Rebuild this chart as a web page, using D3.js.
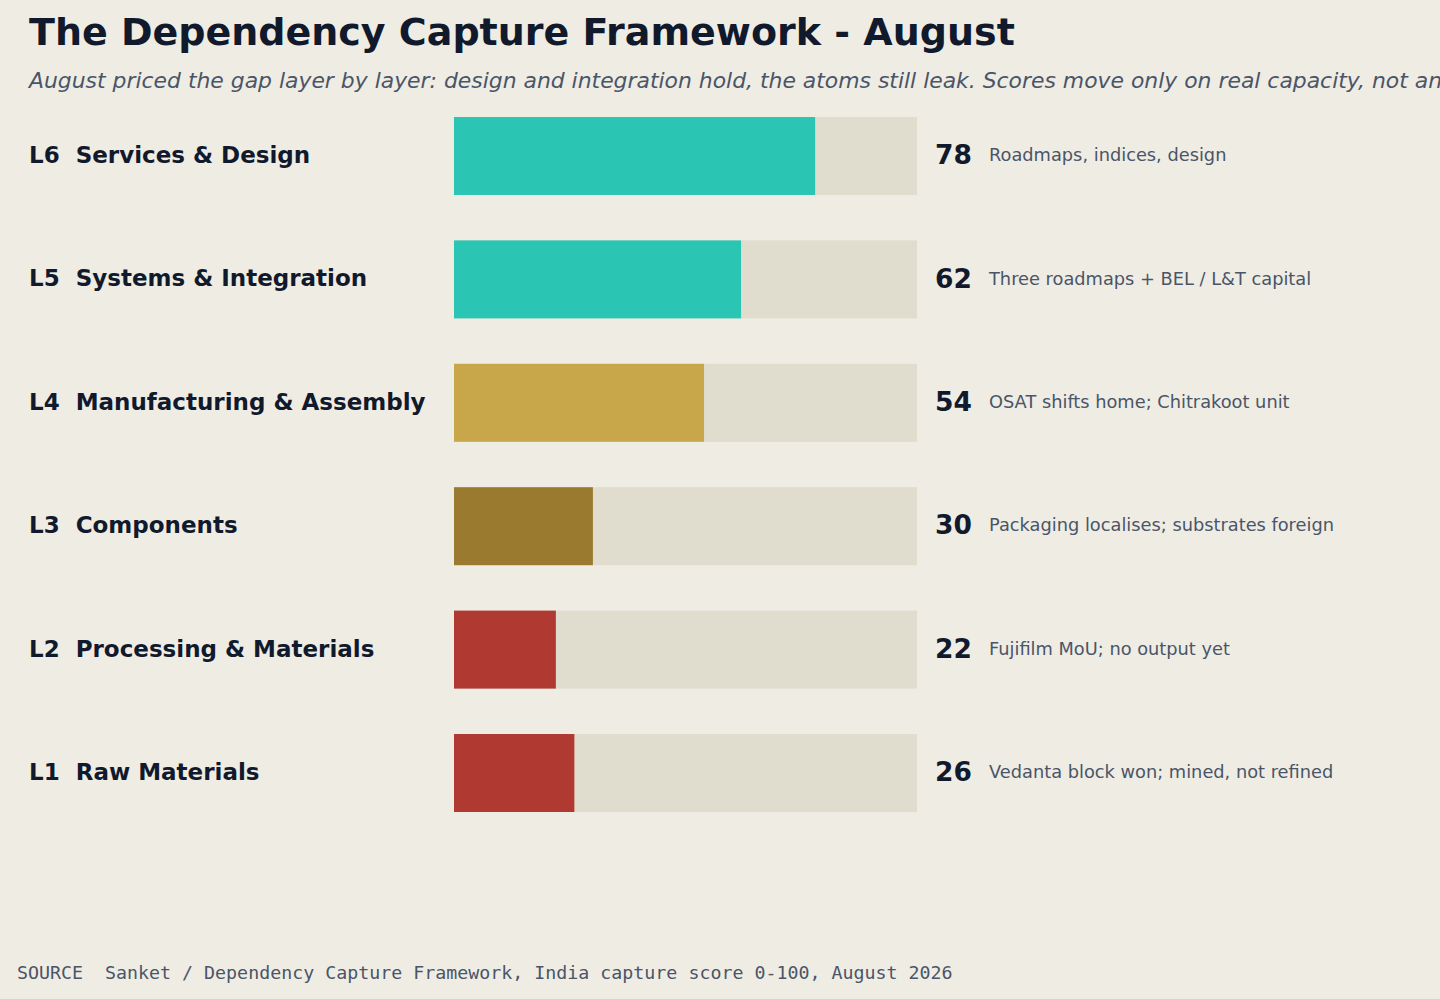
<!DOCTYPE html>
<html>
<head>
<meta charset="utf-8">
<script src="https://cdn.jsdelivr.net/npm/d3@7"></script>
<style>
  html, body { margin: 0; padding: 0; background: #efece4; }
  svg { display: block; }
</style>
</head>
<body>
<svg width="1440" height="999"></svg>
<script>
const layers = ["L6", "L5", "L4", "L3", "L2", "L1"]
const names = ["Services & Design", "Systems & Integration", "Manufacturing & Assembly",
               "Components", "Processing & Materials", "Raw Materials"]
const scores = [78, 62, 54, 30, 22, 26]
const notes = ["Roadmaps, indices, design", "Three roadmaps + BEL / L&T capital",
               "OSAT shifts home; Chitrakoot unit", "Packaging localises; substrates foreign",
               "Fujifilm MoU; no output yet", "Vedanta block won; mined, not refined"]
const colors = ["#2bc5b4", "#2bc5b4", "#c8a74a", "#9a7a2e", "#b03a32", "#b03a32"]

const rows = layers.map((l, i) => ({layer: l, name: names[i], score: scores[i], note: notes[i], color: colors[i]}))

const svg = d3.select("svg")

svg.append("text")
    .attr("x", 29).attr("y", 45)
    .attr("font-family", "DejaVu Sans").attr("font-weight", "bold")
    .attr("font-size", 38).attr("fill", "#111a2c")
    .text("The Dependency Capture Framework - August")

svg.append("text")
    .attr("x", 29).attr("y", 88)
    .attr("font-family", "DejaVu Sans").attr("font-style", "italic")
    .attr("font-size", 21.9).attr("fill", "#4a5568")
    .text("August priced the gap layer by layer: design and integration hold, the atoms still leak. Scores move only on real capacity, not announcements.")

const x = d3.scaleLinear().domain([0, 100]).range([454, 917])
const y = d3.scaleBand().domain(layers).range([117, 812]).paddingInner(0.368).paddingOuter(0)

const rowG = svg.append("g")
    .selectAll("g")
    .data(rows)
    .enter()
    .append("g")
    .attr("transform", d => "translate(0," + y(d.layer) + ")")

// track behind each bar
rowG.append("rect")
    .attr("x", x(0)).attr("width", x(100) - x(0))
    .attr("height", y.bandwidth())
    .attr("fill", "#e0ddcf")

rowG.append("rect")
    .attr("x", x(0)).attr("width", d => x(d.score) - x(0))
    .attr("height", y.bandwidth())
    .attr("fill", d => d.color)

rowG.append("text")
    .attr("x", 29).attr("y", y.bandwidth() / 2 - 1)
    .attr("dy", "0.35em")
    .attr("font-family", "DejaVu Sans").attr("font-weight", "bold")
    .attr("font-size", 23).attr("fill", "#111a2c")
    .attr("xml:space", "preserve")
    .text(d => d.layer + "  " + d.name)

rowG.append("text")
    .attr("x", 935).attr("y", y.bandwidth() / 2 - 1)
    .attr("dy", "0.35em")
    .attr("font-family", "DejaVu Sans").attr("font-weight", "bold")
    .attr("font-size", 26.5).attr("fill", "#111a2c")
    .text(d => d.score)

rowG.append("text")
    .attr("x", 989).attr("y", y.bandwidth() / 2 - 1)
    .attr("dy", "0.35em")
    .attr("font-family", "DejaVu Sans")
    .attr("font-size", 17.8).attr("fill", "#4a5568")
    .text(d => d.note)

svg.append("text")
    .attr("x", 17).attr("y", 979)
    .attr("font-family", "DejaVu Sans Mono")
    .attr("font-size", 18.3).attr("fill", "#4a5568")
    .attr("xml:space", "preserve")
    .text("SOURCE  Sanket / Dependency Capture Framework, India capture score 0-100, August 2026")
</script>
</body>
</html>
